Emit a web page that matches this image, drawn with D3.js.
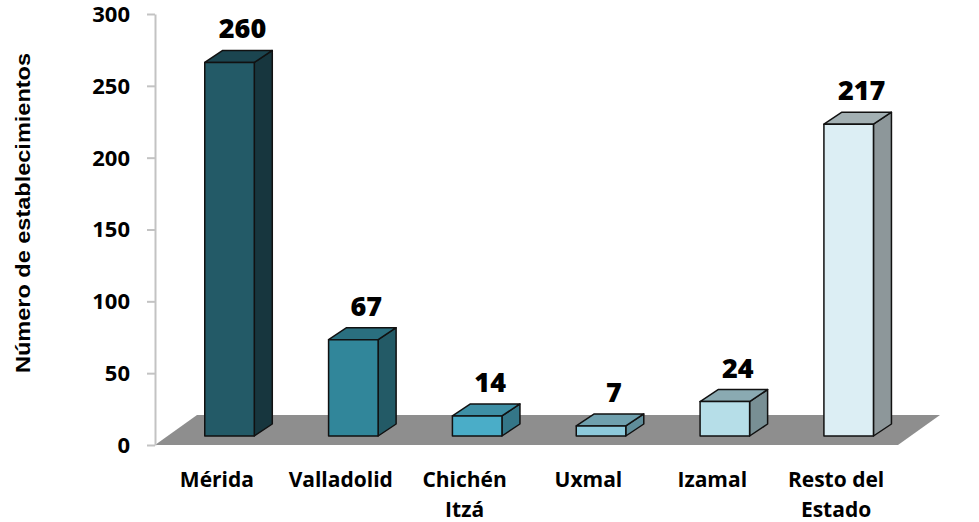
<!DOCTYPE html>
<html>
<head>
<meta charset="utf-8">
<script src="https://cdn.jsdelivr.net/npm/d3@7"></script>
<style>
  body { margin: 0; background: #ffffff; }
  text { fill: #000; }
</style>
</head>
<body>
<div id="chart"></div>
<script>
////////////////////////////////////////////////////////////////////////
// Data

let categories = ["Mérida", "Valladolid", "Chichén Itzá", "Uxmal", "Izamal", "Resto del Estado"];
let values = [260, 67, 14, 7, 24, 217];
let yTicks = [0, 50, 100, 150, 200, 250, 300];

// label lines (the long names wrap on two lines)
let labelLines = [["Mérida"], ["Valladolid"], ["Chichén", "Itzá"], ["Uxmal"], ["Izamal"], ["Resto del", "Estado"]];

// colours per bar: front face, right side, top
let frontColors = ["#235a67", "#31869a", "#4aadc8", "#8dcadc", "#b6dee8", "#dceef4"];
let sideColors  = ["#17363e", "#235a66", "#347688", "#5f8d9a", "#788f94", "#8d979a"];
let topColors   = ["#1b4550", "#2a6f7f", "#3e8fa5", "#6fa0ae", "#8aaab2", "#a3b0b3"];


////////////////////////////////////////////////////////////////////////
// svg + scales

let width = 979;
let height = 522;

let svg = d3.select("#chart")
  .append("svg")
  .attr("width", width).attr("height", height);

let x0 = 155, x1 = 898;
let xScale = d3.scaleBand()
  .domain(categories)
  .range([x0, x1])
  .paddingInner(0.6)
  .paddingOuter(0.3);

let yScale = d3.scaleLinear()
  .domain([0, 300])
  .range([445, 14]);

// floor depth, bar depth and where the bar sits inside the floor
let floorDx = 42, floorDy = -30;
let barDx = 18, barDy = -12;
let offX = 12.6, offY = -9;

let labelFont = "'Open Sans', 'DejaVu Sans', sans-serif";


////////////////////////////////////////////////////////////////////////
// floor

let y0 = yScale(0);
svg.append("polygon")
  .attr("points", [[x0, y0], [x1, y0], [x1 + floorDx, y0 + floorDy], [x0 + floorDx, y0 + floorDy]].join(" "))
  .style("fill", "#8e8e8e");


////////////////////////////////////////////////////////////////////////
// y axis

let axis = svg.append("g")
  .attr("transform", "translate(" + x0 + ",0)")
  .call(d3.axisLeft(yScale).tickValues(yTicks).tickSize(8).tickSizeOuter(0).tickPadding(17));

axis.select(".domain").style("stroke", "#c3c3c3").style("stroke-width", 2);
axis.selectAll(".tick line").style("stroke", "#c3c3c3").style("stroke-width", 2);
axis.selectAll(".tick text")
  .attr("dy", "0.34em")
  .style("font-family", labelFont)
  .style("font-weight", "bold")
  .style("font-size", "22px")
  .style("fill", "#000");

svg.append("text")
  .attr("transform", "translate(30,213) rotate(-90)")
  .attr("text-anchor", "middle")
  .attr("textLength", 320)
  .attr("lengthAdjust", "spacingAndGlyphs")
  .style("font-family", "'Liberation Sans', Arial, sans-serif")
  .style("font-weight", "bold")
  .style("font-size", "21px")
  .text("Número de establecimientos");


////////////////////////////////////////////////////////////////////////
// 3d bars

let bw = xScale.bandwidth();

let bars = svg.append("g")
  .selectAll(".bar")
  .data(categories)
  .enter()
  .append("g")
  .attr("class", "bar");

function front(i) {
  let l = xScale(categories[i]) + offX;
  let b = yScale(0) + offY;
  let t = yScale(values[i]) + offY;
  return { l: l, r: l + bw, b: b, t: t };
}

bars.append("polygon")
  .attr("points", function(d, i) {
    let f = front(i);
    return [[f.r, f.b], [f.r + barDx, f.b + barDy], [f.r + barDx, f.t + barDy], [f.r, f.t]].join(" ");
  })
  .style("fill", function(d, i) { return sideColors[i]; });

bars.append("polygon")
  .attr("points", function(d, i) {
    let f = front(i);
    return [[f.l, f.t], [f.r, f.t], [f.r + barDx, f.t + barDy], [f.l + barDx, f.t + barDy]].join(" ");
  })
  .style("fill", function(d, i) { return topColors[i]; });

bars.append("rect")
  .attr("x", function(d, i) { return front(i).l; })
  .attr("y", function(d, i) { return front(i).t; })
  .attr("width", bw)
  .attr("height", function(d, i) { return front(i).b - front(i).t; })
  .style("fill", function(d, i) { return frontColors[i]; });

bars.selectAll("polygon, rect")
  .style("stroke", "#111")
  .style("stroke-width", 1.5)
  .style("stroke-linejoin", "round");

// value labels
bars.append("text")
  .attr("x", function(d, i) { return front(i).l + bw / 2 + 13; })
  .attr("y", function(d, i) { return front(i).t + barDy - 12; })
  .attr("text-anchor", "middle")
  .style("font-family", labelFont)
  .style("font-weight", "800")
  .style("font-size", "27px")
  .text(function(d, i) { return values[i]; });


////////////////////////////////////////////////////////////////////////
// category labels

let catLabels = svg.append("g")
  .selectAll(".label")
  .data(categories)
  .enter()
  .append("text")
  .attr("class", "label")
  .attr("text-anchor", "middle")
  .style("font-family", labelFont)
  .style("font-weight", "bold")
  .style("font-size", "21px");

catLabels.selectAll("tspan")
  .data(function(d, i) { return labelLines[i].map(function(s) { return { s: s, c: d }; }); })
  .enter()
  .append("tspan")
  .attr("x", function(d) { return xScale(d.c) + bw / 2; })
  .attr("y", function(d, j) { return 487 + j * 30; })
  .text(function(d) { return d.s; });
</script>
</body>
</html>
